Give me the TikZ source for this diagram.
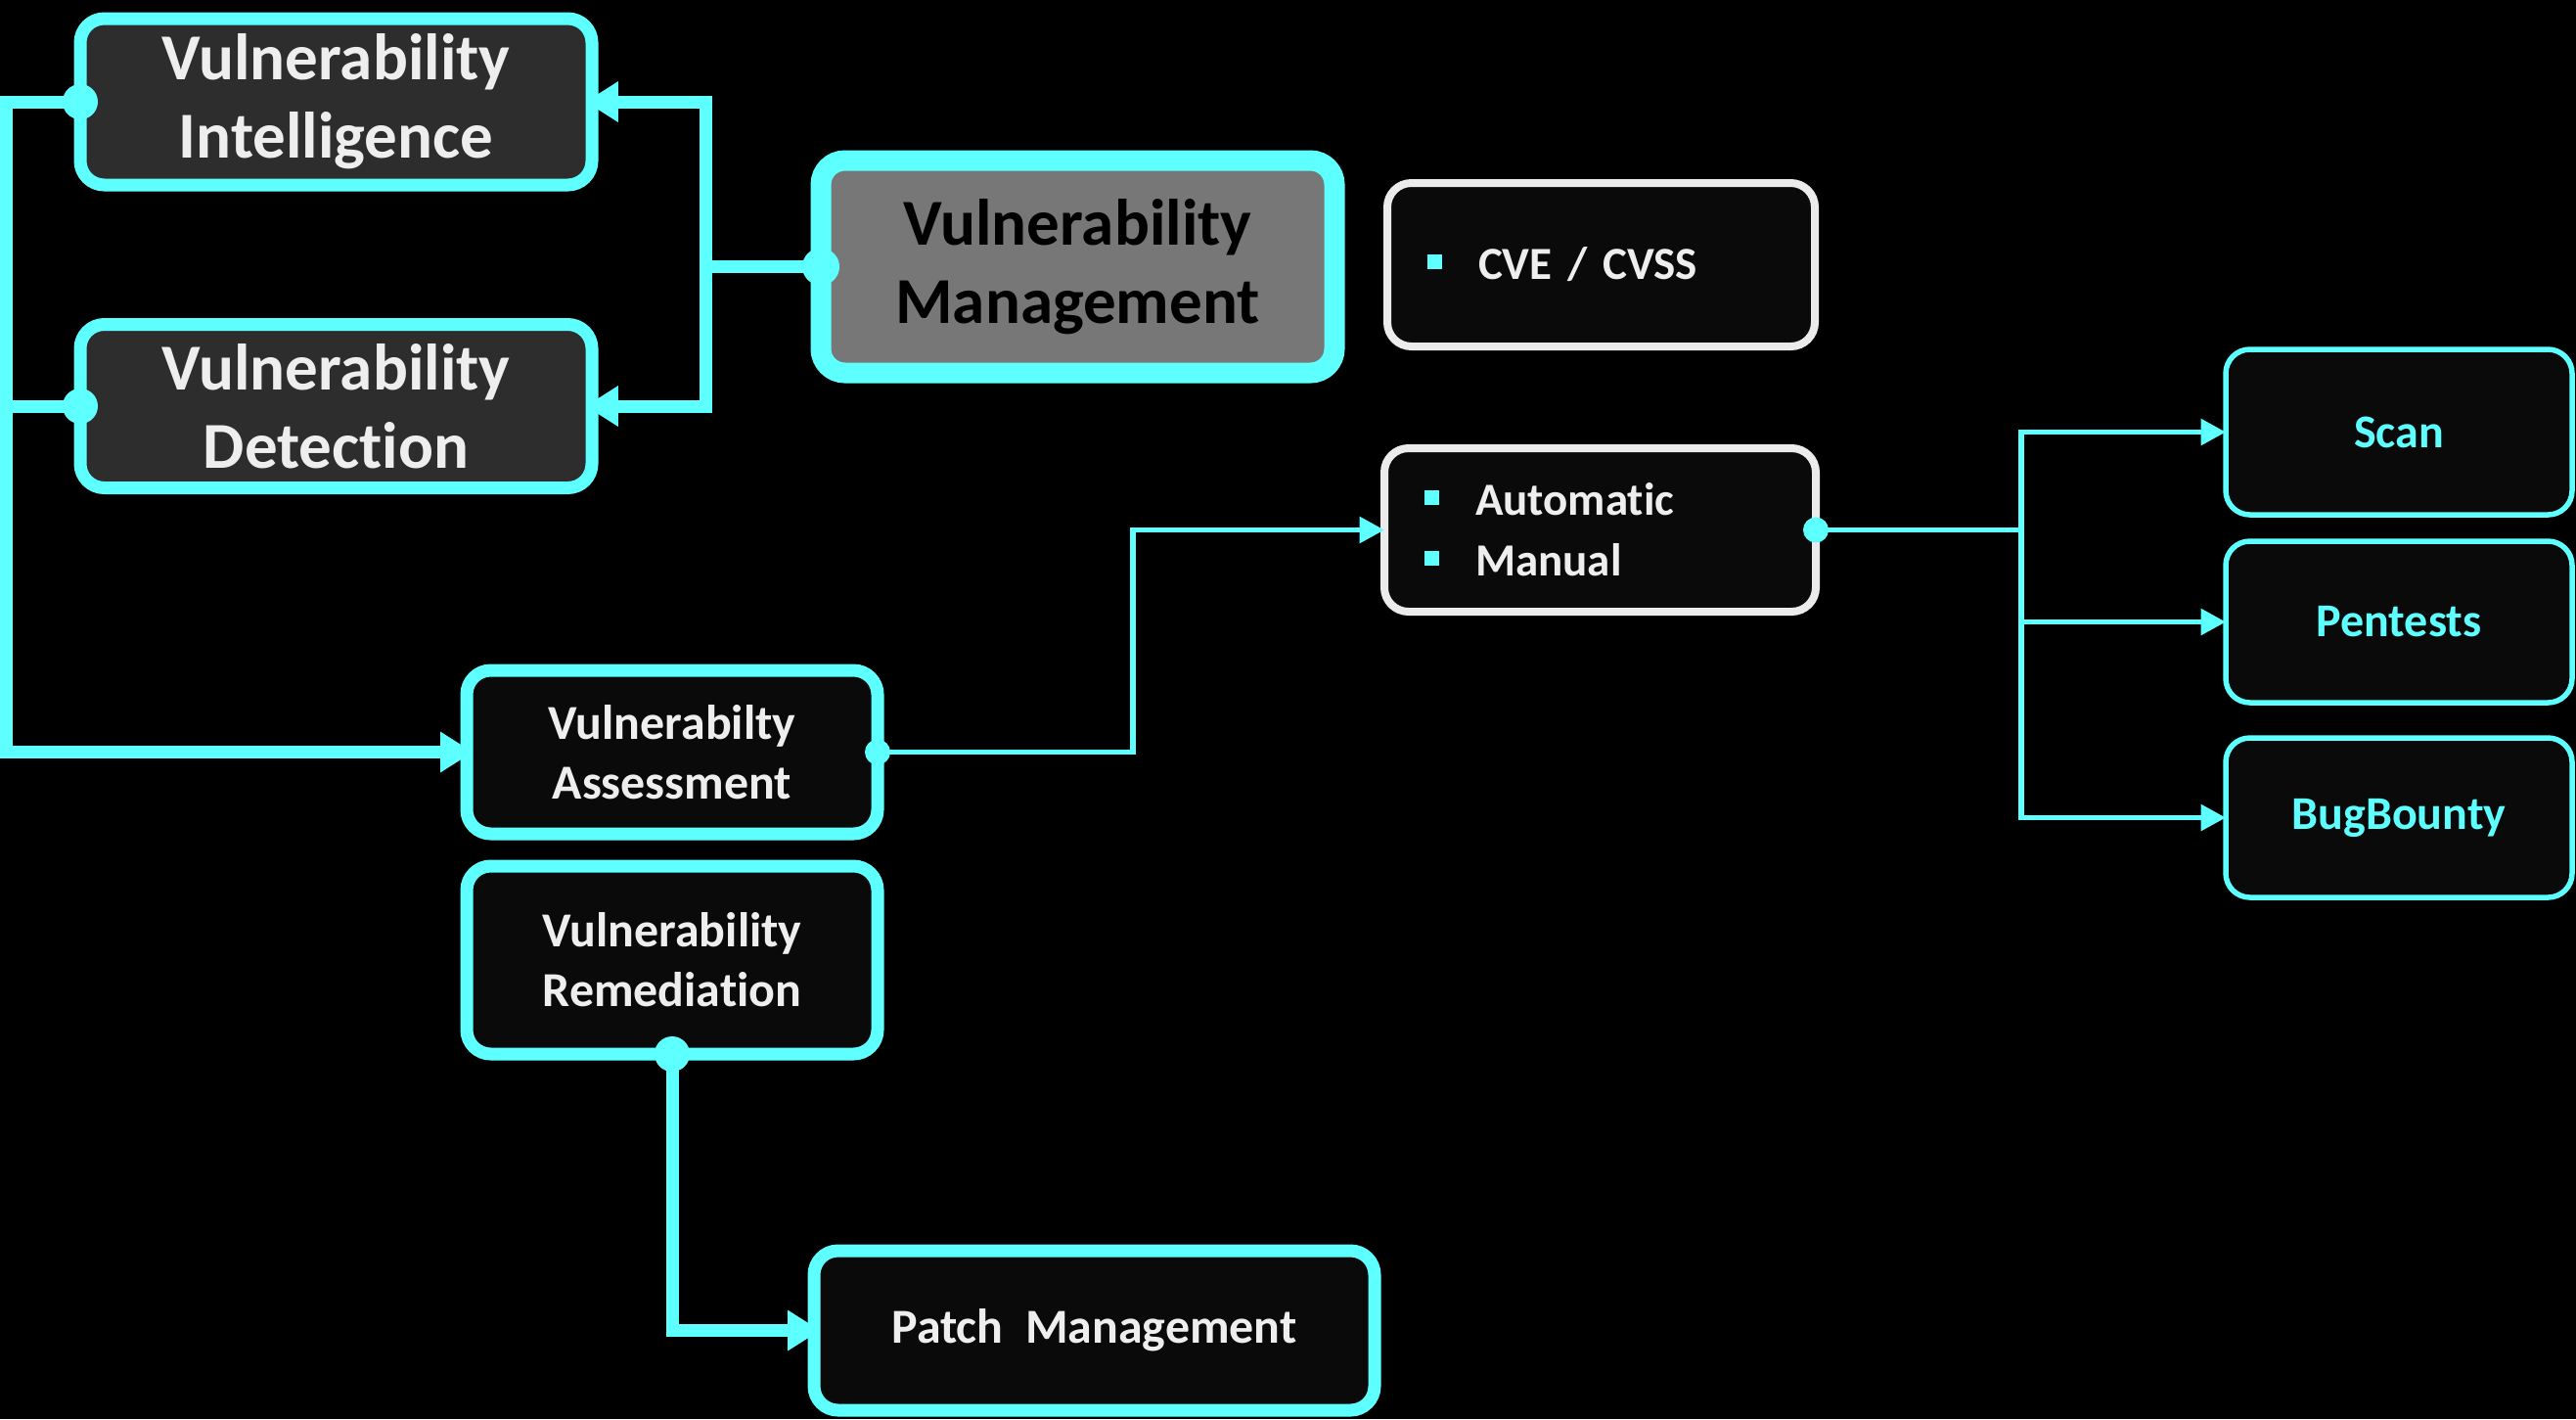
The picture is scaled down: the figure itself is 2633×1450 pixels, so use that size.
\documentclass[tikz,border=0pt]{standalone}
\usepackage{fontspec}
\setmainfont{Carlito}[Ligatures=NoCommon]
\usetikzlibrary{arrows.meta}
\definecolor{cy}{HTML}{5EFFFF}
\definecolor{wt}{HTML}{EEEEEE}
\definecolor{lg}{HTML}{EBEBEB}
\definecolor{dk}{HTML}{2D2D2D}
\definecolor{md}{HTML}{777777}
\definecolor{bk}{HTML}{0A0A0A}
\newlength\pxu \setlength\pxu{0.01cm}
\newcommand\bul{{\color{cy}\rule[11\pxu]{15\pxu}{15\pxu}}\hspace{37\pxu}}
\begin{document}
\begin{tikzpicture}[x=0.01cm,y=-0.01cm,
  box/.style={rectangle, rounded corners=7pt, inner sep=0pt, outer sep=0pt, align=center},
  bigbox/.style={box, draw=cy, line width=13\pxu, fill=dk, text=wt, font=\bfseries\fontsize{19.06}{22.76}\selectfont},
  vmbox/.style={box, draw=cy, line width=21\pxu, fill=md, text=black, font=\bfseries\fontsize{19.06}{22.76}\selectfont},
  midbox/.style={box, draw=cy, line width=13\pxu, fill=bk, text=wt, font=\bfseries\fontsize{14.2}{17.36}\selectfont},
  listbox/.style={box, draw=lg, line width=8\pxu, fill=bk, text=wt, align=left, inner xsep=41\pxu, font=\bfseries\fontsize{13.37}{17.64}\selectfont},
  cybox/.style={box, draw=cy, line width=5.5\pxu, fill=bk, text=cy, font=\bfseries\fontsize{13.66}{17}\selectfont, minimum width=354\pxu},
  thk/.style={draw=cy, line width=13\pxu},
  thn/.style={draw=cy, line width=5.5\pxu},
  bigarr/.style={-{Triangle[length=9.5pt,width=11.2pt]}, shorten >=-6.5\pxu},
  smarr/.style={-{Triangle[length=7.2pt,width=7.4pt]}},
  dot/.style={fill=cy}
]
\fill[black] (0,0) rectangle (2633,1450);
\useasboundingbox (0,0) rectangle (2633,1450);

% boxes
\node[bigbox, minimum width=523\pxu, minimum height=170\pxu] (vi) at (343.5,104) {Vulnerability\\Intelligence};
\node[bigbox, minimum width=523\pxu, minimum height=167\pxu] (vd) at (343.5,415) {Vulnerability\\Detection};
\node[vmbox, minimum width=525\pxu, minimum height=217\pxu] (vm) at (1101.5,272.5) {Vulnerability\\Management};
\node[listbox, text width=355\pxu, minimum height=167\pxu] (cve) at (1636.5,270.5) {\bul CVE / CVSS};
\node[listbox, text width=359\pxu, minimum height=167\pxu] (am) at (1635.5,541.5) {\bul Automatic\\\bul Manual};
\node[cybox, minimum height=169\pxu] (scan) at (2452,441.5) {Scan};
\node[cybox, minimum height=165\pxu] (pen) at (2452,635.5) {Pentests};
\node[cybox, minimum height=163\pxu] (bug) at (2452,835.5) {BugBounty};
\node[midbox, minimum width=420\pxu, minimum height=167\pxu] (va) at (687,768.5) {Vulnerabilty\\Assessment};
\node[midbox, minimum width=420\pxu, minimum height=192\pxu] (vr) at (687,981) {Vulnerability\\Remediation};
\node[midbox, minimum width=573\pxu, minimum height=163\pxu] (pm) at (1118.5,1359.5) {Patch\ \ Management};

% junction coordinates
\coordinate (vmj) at (721,272.5);
\coordinate (lt) at (6,104);
\coordinate (lb) at (6,768.5);
\coordinate (vaj) at (1158,768.5);
\coordinate (amj) at (2066,541.5);

% connectors
\draw[thk, bigarr] (vm.west) -- (vmj) |- (vi.east);
\draw[thk, bigarr] (vmj) |- (vd.east);
\draw[thk, bigarr] (vi.west) -- (lt) -- (lb) -- (va.west);
\draw[thk] (vd.west) -- (vd.west -| lt);
\draw[thn, smarr] (va.east) -- (vaj) |- (am.west);
\draw[thn] (am.east) -- (amj);
\draw[thn, smarr] (amj) |- (scan.west);
\draw[thn, smarr] (amj) |- (pen.west);
\draw[thn, smarr] (amj) |- (bug.west);
\draw[thk, bigarr] (vr.south) |- (pm.west);

% dots
\fill[dot] (vm.west) circle (19);
\fill[dot] (vi.west) circle (18);
\fill[dot] (vd.west) circle (18);
\fill[dot] (vr.south) circle (18);
\fill[dot] (va.east) circle (13);
\fill[dot] (am.east) circle (13);
\end{tikzpicture}
\end{document}
